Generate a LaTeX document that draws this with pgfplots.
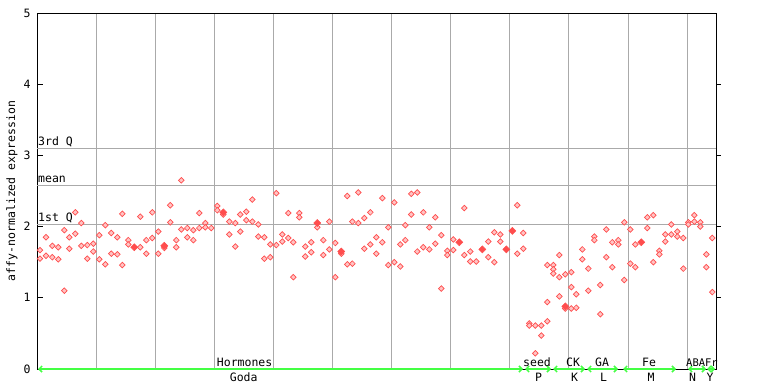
\documentclass[border=0pt]{standalone}
\usepackage{pgfplots}
\pgfplotsset{compat=1.18}
\usepackage{fontspec}
\setmonofont{DejaVu Sans Mono}
\usetikzlibrary{arrows.meta}
\definecolor{pt}{HTML}{FF4D4D}
\definecolor{ptfill}{HTML}{FFC4C4}
\definecolor{gr}{HTML}{AAAAAA}
\definecolor{lg}{HTML}{44FF44}
\newcommand{\mf}{\fontsize{11.5}{12}\selectfont\ttfamily}
\begin{document}
\begin{tikzpicture}[x=1pt,y=1pt]
\path[use as bounding box] (0,0) rectangle (768,384);
\node[rotate=90, font=\mf] at (12,193) {affy-normalized expression};
\begin{axis}[
  at={(37pt,15pt)}, anchor=south west,
  scale only axis, width=679pt, height=356pt,
  xmin=0, xmax=679, ymin=0, ymax=5,
  clip=false,
  axis line style={black, line width=1pt},
  xtick={59,118,177,236,295,354,413,472,531,591,650},
  xticklabels={},
  xmajorgrids,
  major x tick style={draw=none},
  major x grid style={gr, line width=1pt},
  ytick={0,1,2,3,4,5},
  ytick pos=left,
  tick align=inside,
  major tick length=6pt,
  major y tick style={black, line width=1pt},
  yticklabel style={font=\mf, xshift=-3pt},
  /pgf/number format/assume math mode=true,
]
\draw[gr, line width=1pt] (axis cs:0,2.03) -- (axis cs:679,2.03);
\draw[gr, line width=1pt] (axis cs:0,2.58) -- (axis cs:679,2.58);
\draw[gr, line width=1pt] (axis cs:0,3.10) -- (axis cs:679,3.10);
\node[anchor=base west, font=\mf, inner sep=0pt, xshift=1pt, yshift=2.5pt] at (axis cs:0,3.10) {3rd Q};
\node[anchor=base west, font=\mf, inner sep=0pt, xshift=1pt, yshift=2.5pt] at (axis cs:0,2.58) {mean};
\node[anchor=base west, font=\mf, inner sep=0pt, xshift=1pt, yshift=2.5pt] at (axis cs:0,2.03) {1st Q};
\draw[black, line width=1pt] (axis cs:679,1) -- ++(5pt,0);
\draw[black, line width=1pt] (axis cs:679,2) -- ++(5pt,0);
\draw[black, line width=1pt] (axis cs:679,3) -- ++(5pt,0);
\draw[black, line width=1pt] (axis cs:679,4) -- ++(5pt,0);

\addplot[only marks, mark=square*, mark size=2pt, mark options={rotate=45, draw=pt, fill=ptfill, line width=0.7pt}] table {
3 1.67
3 1.55
9 1.85
9 1.59
15.3 1.73
15.3 1.57
21.3 1.71
21.3 1.54
27.3 1.95
27.3 1.10
32.3 1.85
32.3 1.69
38.3 2.20
38.3 1.90
44.3 2.05
44.3 1.73
50.3 1.74
50.3 1.55
56.3 1.76
56.3 1.65
62.3 1.88
62.3 1.54
68.3 2.02
68.3 1.47
74.3 1.91
74.3 1.62
80.3 1.85
80.3 1.61
85.3 2.18
85.3 1.46
91.3 1.81
91.3 1.75
103.3 2.14
103.3 1.71
109.3 1.81
109.3 1.62
115.3 2.20
115.3 1.84
121.3 1.93
121.3 1.62
127.3 1.70
133.3 2.30
133.3 2.06
139.3 1.81
139.3 1.71
144.3 2.65
144.3 1.96
150.3 1.98
150.3 1.85
156.3 1.95
156.3 1.81
162.3 2.19
162.3 1.98
168.3 2.05
168.3 1.99
174.3 1.98
180.3 2.29
180.3 2.23
186.3 2.17
192.3 2.07
192.3 1.89
198.3 2.05
198.3 1.72
203.3 2.17
203.3 1.93
209.3 2.21
209.3 2.09
215.3 2.38
215.3 2.07
221.3 2.03
221.3 1.86
227.3 1.85
227.3 1.55
233.3 1.75
233.3 1.57
239.3 2.47
239.3 1.74
245.3 1.89
245.3 1.79
251.3 2.19
251.3 1.84
256.3 1.78
256.3 1.29
262.3 2.19
262.3 2.13
268.3 1.72
268.3 1.58
274.3 1.78
274.3 1.64
280.3 1.99
286.3 1.81
286.3 1.60
292.3 2.07
292.3 1.68
298.3 1.77
298.3 1.29
304.3 1.62
310.3 2.43
310.3 1.47
315.3 2.07
315.3 1.48
321.3 2.48
321.3 2.05
327.3 2.12
327.3 1.69
333.3 2.20
333.3 1.75
339.3 1.85
339.3 1.62
345.3 2.40
345.3 1.78
351.3 1.99
351.3 1.46
357.3 2.34
357.3 1.50
363.3 1.75
363.3 1.44
368.3 2.02
368.3 1.81
374.3 2.46
374.3 2.17
380.3 2.48
380.3 1.65
386.3 2.20
386.3 1.71
392.3 1.99
392.3 1.68
398.3 2.13
398.3 1.76
404.3 1.88
404.3 1.13
410.3 1.66
410.3 1.60
416.3 1.82
416.3 1.67
427.3 2.26
427.3 1.60
433.3 1.65
433.3 1.51
439.3 1.51
451.3 1.79
451.3 1.57
457.3 1.92
457.3 1.50
463.3 1.89
463.3 1.79
480.3 2.30
480.3 1.62
486.3 1.91
486.3 1.69
492.3 0.64
492.3 0.61
498.3 0.61
498.3 0.22
504.3 0.61
504.3 0.47
510.3 1.46
510.3 0.94
510.3 0.67
516.3 1.46
516.3 1.40
516.3 1.34
522.3 1.60
522.3 1.29
522.3 1.02
528.3 1.33
528.3 0.85
534.3 1.36
534.3 1.15
534.3 0.85
539.3 1.05
539.3 0.86
545.3 1.68
545.3 1.54
551.3 1.41
551.3 1.10
557.3 1.86
557.3 1.81
563.3 1.18
563.3 0.77
569.3 1.96
569.3 1.57
575.3 1.78
575.3 1.43
581.3 1.81
581.3 1.75
587.3 2.06
587.3 1.25
593.3 1.96
593.3 1.48
598.3 1.75
598.3 1.43
610.3 2.13
610.3 1.98
616.3 2.16
616.3 1.50
622.3 1.66
622.3 1.61
628.3 1.89
628.3 1.79
634.3 2.03
634.3 1.89
640.3 1.93
640.3 1.86
646.3 1.84
646.3 1.41
651.3 2.06
651.3 2.03
657.3 2.16
657.3 2.07
663.3 2.06
663.3 2.00
669.3 1.61
669.3 1.43
675.3 1.84
675.3 1.08
};
\addplot[only marks, mark=square*, mark size=2.5pt, mark options={rotate=45, draw=pt, fill=pt, line width=0.5pt}] table {
97.3 1.71
127.3 1.73
186.3 2.20
280.3 2.05
304.3 1.65
422.3 1.78
445.3 1.68
469.3 1.68
475.3 1.94
528.3 0.88
604.3 1.78
};
\draw[lg, line width=1.5pt, {Straight Barb[length=3pt,width=6pt]}-{Straight Barb[length=3pt,width=6pt]}] (axis cs:1,0) -- (axis cs:486,0);
\draw[lg, line width=1.5pt, {Straight Barb[length=3pt,width=6pt]}-{Straight Barb[length=3pt,width=6pt]}] (axis cs:488,0) -- (axis cs:514,0);
\draw[lg, line width=1.5pt, {Straight Barb[length=3pt,width=6pt]}-{Straight Barb[length=3pt,width=6pt]}] (axis cs:516,0) -- (axis cs:548,0);
\draw[lg, line width=1.5pt, {Straight Barb[length=3pt,width=6pt]}-{Straight Barb[length=3pt,width=6pt]}] (axis cs:550,0) -- (axis cs:581,0);
\draw[lg, line width=1.5pt, {Straight Barb[length=3pt,width=6pt]}-{Straight Barb[length=3pt,width=6pt]}] (axis cs:586,0) -- (axis cs:639,0);
\draw[lg, line width=1.5pt, {Straight Barb[length=3pt,width=6pt]}-{Straight Barb[length=3pt,width=6pt]}] (axis cs:651,0) -- (axis cs:669,0);
\draw[lg, line width=1.5pt, {Straight Barb[length=3pt,width=6pt]}-{Straight Barb[length=3pt,width=6pt]}] (axis cs:670,0) -- (axis cs:678,0);
\node[anchor=base, font=\mf, inner sep=0pt, yshift=3pt] at (axis cs:207.6,0) {Hormones};
\node[anchor=base, font=\mf, inner sep=0pt, yshift=3pt] at (axis cs:500,0) {seed};
\node[anchor=base, font=\mf, inner sep=0pt, yshift=3pt] at (axis cs:536,0) {CK};
\node[anchor=base, font=\mf, inner sep=0pt, yshift=3pt] at (axis cs:565,0) {GA};
\node[anchor=base, font=\mf, inner sep=0pt, yshift=3pt] at (axis cs:612,0) {Fe};
\node[anchor=base, font=\fontsize{10.5}{11}\selectfont\ttfamily, inner sep=0pt, yshift=3pt] at (axis cs:665,0) {ABAFr};
\node[anchor=base, font=\mf, inner sep=0pt, yshift=-12pt] at (axis cs:206.7,0) {Goda};
\node[anchor=base, font=\mf, inner sep=0pt, yshift=-12pt] at (axis cs:501.7,0) {P};
\node[anchor=base, font=\mf, inner sep=0pt, yshift=-12pt] at (axis cs:537.5,0) {K};
\node[anchor=base, font=\mf, inner sep=0pt, yshift=-12pt] at (axis cs:566.5,0) {L};
\node[anchor=base, font=\mf, inner sep=0pt, yshift=-12pt] at (axis cs:614,0) {M};
\node[anchor=base, font=\mf, inner sep=0pt, yshift=-12pt] at (axis cs:655.5,0) {N};
\node[anchor=base, font=\mf, inner sep=0pt, yshift=-12pt] at (axis cs:673,0) {Y};
\end{axis}
\end{tikzpicture}
\end{document}
